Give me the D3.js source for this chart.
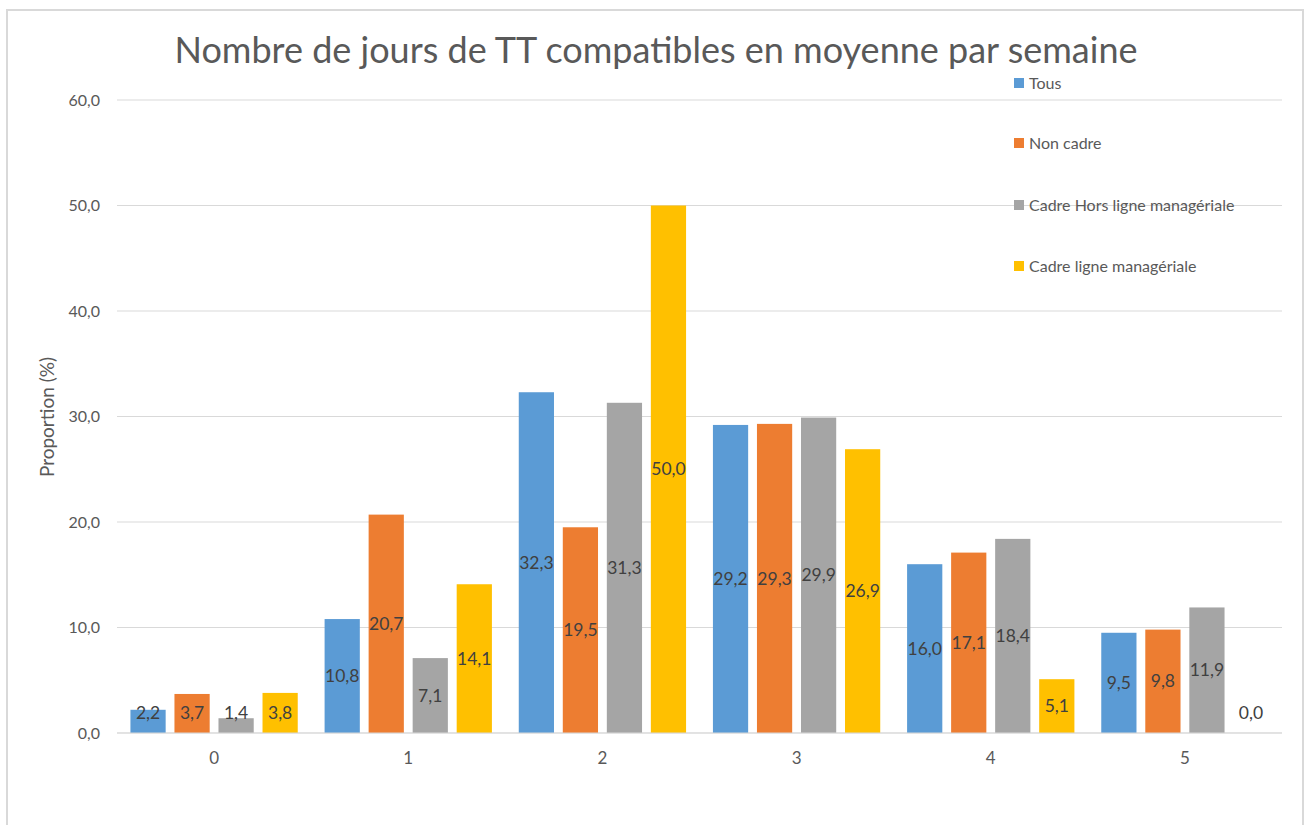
<!DOCTYPE html>
<html><head><meta charset="utf-8">
<script src="https://cdn.jsdelivr.net/npm/d3@7"></script>
<style>body{margin:0;background:#fff;}svg{display:block;font-family:Lato,"Open Sans",sans-serif;}</style>
</head><body>
<svg id="c" width="1309" height="825"></svg>
<script>
const categories = ["0","1","2","3","4","5"];
const seriesNames = ["Tous","Non cadre","Cadre Hors ligne managériale","Cadre ligne managériale"];
const tous = [2.2,10.8,32.3,29.2,16.0,9.5];
const nonCadre = [3.7,20.7,19.5,29.3,17.1,9.8];
const cadreHors = [1.4,7.1,31.3,29.9,18.4,11.9];
const cadreLigne = [3.8,14.1,50.0,26.9,5.1,0.0];
const yTicks = [0,10,20,30,40,50,60];
const colors = ["#5B9BD5","#ED7D31","#A5A5A5","#FFC000"];
const seriesValues = [tous,nonCadre,cadreHors,cadreLigne];

const svg = d3.select("#c");
const fmt = v => v.toFixed(1).replace(".", ",");

// chart border
svg.append("rect").attr("x",7).attr("y",10).attr("width",1296).attr("height",830)
  .attr("fill","#fff").attr("stroke","#d9d9d9").attr("stroke-width",2);

const pLeft = 117, pRight = 1282, pTop = 100, pBottom = 733;
const y = d3.scaleLinear().domain([0,60]).range([pBottom, pTop]);
const x0 = d3.scaleBand().domain(categories).range([pLeft, pRight]).paddingInner(0).paddingOuter(0);
const x1 = d3.scaleBand().domain(seriesNames).range([0, x0.bandwidth()]).paddingInner(0.2).paddingOuter(0.305);

// gridlines
svg.append("g").selectAll("line").data(yTicks).join("line")
  .attr("x1",pLeft).attr("x2",pRight).attr("y1",d=>y(d)).attr("y2",d=>y(d))
  .attr("stroke","#d9d9d9").attr("stroke-width",1);

// y axis labels
const yAxis = d3.axisLeft(y).tickValues(yTicks).tickFormat(fmt).tickSize(0).tickPadding(0);
const gy = svg.append("g").attr("transform",`translate(${pLeft-17},0)`).call(yAxis);
gy.select(".domain").remove();
gy.selectAll("text").attr("fill","#595959").style("font-size","16px").style("font-family","Lato,'Open Sans',sans-serif");

// x axis labels
const xAxis = d3.axisBottom(x0).tickSize(0).tickPadding(0);
const gx = svg.append("g").attr("transform",`translate(0,${pBottom+19})`).call(xAxis);
gx.select(".domain").remove();
gx.selectAll("text").attr("fill","#595959").style("font-size","17px").style("font-family","Lato,'Open Sans',sans-serif");

// bars
const data = [];
categories.forEach((c,i)=>seriesNames.forEach((s,j)=>data.push({c,s,j,v:seriesValues[j][i]})));
const g = svg.append("g");
g.selectAll("rect").data(data).join("rect")
  .attr("x",d=>x0(d.c)+x1(d.s)).attr("width",x1.bandwidth())
  .attr("y",d=>y(d.v)).attr("height",d=>y(0)-y(d.v))
  .attr("fill",d=>colors[d.j]);
g.selectAll("text").data(data).join("text")
  .attr("x",d=>x0(d.c)+x1(d.s)+x1.bandwidth()/2)
  .attr("y",d=>Math.min((y(d.v)+y(0))/2, y(0)-20))
  .attr("dy","0.35em").attr("text-anchor","middle")
  .attr("fill","#404040").style("font-size","17.5px")
  .text(d=>fmt(d.v));

// x axis baseline
svg.append("line").attr("x1",pLeft).attr("x2",pRight).attr("y1",pBottom).attr("y2",pBottom)
  .attr("stroke","#d9d9d9").attr("stroke-width",1);

// title
svg.append("text").attr("x",656).attr("y",63).attr("text-anchor","middle")
  .attr("fill","#595959").style("font-size","36px").text("Nombre de jours de TT compatibles en moyenne par semaine");

// y axis title
svg.append("text").attr("transform","translate(54,417) rotate(-90)").attr("text-anchor","middle")
  .attr("fill","#595959").style("font-size","19px").text("Proportion (%)");

// legend
const lg = svg.append("g");
const legY = [83,143,205,266];
seriesNames.forEach((s,j)=>{
  lg.append("rect").attr("x",1014).attr("y",legY[j]-5).attr("width",10).attr("height",10).attr("fill",colors[j]);
  lg.append("text").attr("x",1029).attr("y",legY[j]).attr("dy","0.35em").attr("fill","#595959")
    .style("font-size","16px").text(s);
});
</script>
</body></html>
